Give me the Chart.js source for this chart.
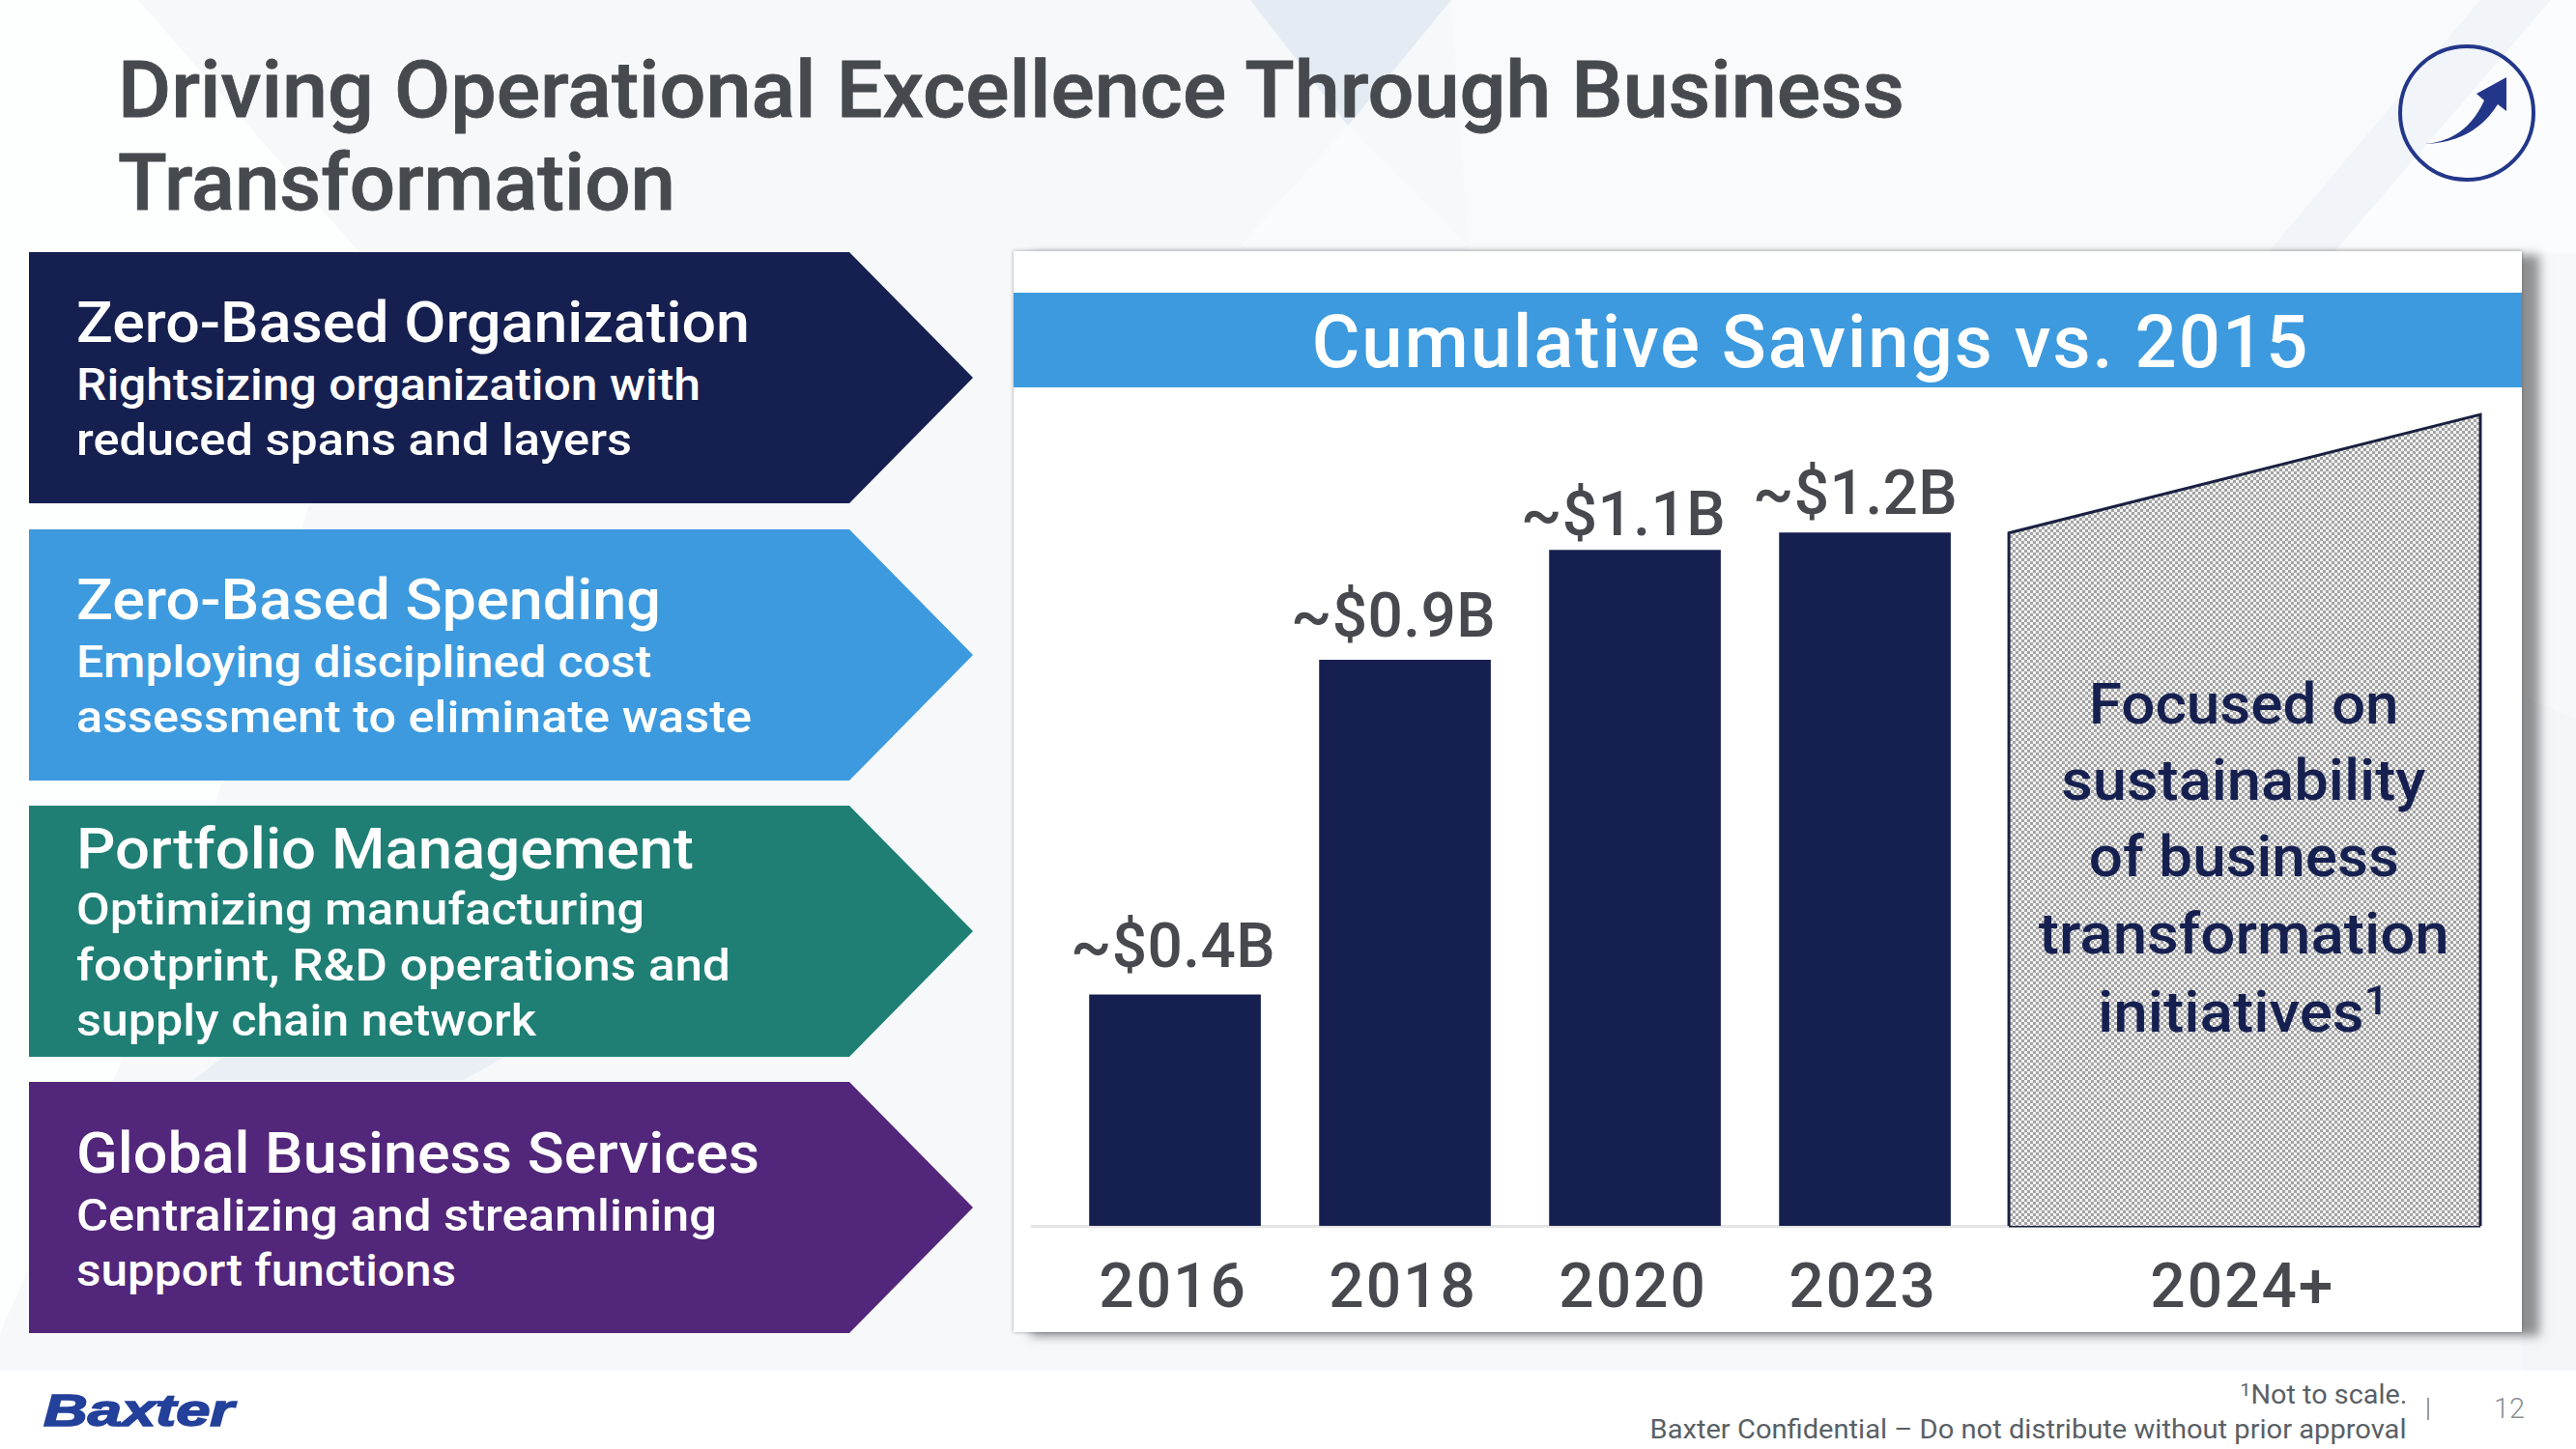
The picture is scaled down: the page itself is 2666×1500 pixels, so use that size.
<!DOCTYPE html>
<html>
<head>
<meta charset="utf-8">
<title>Driving Operational Excellence Through Business Transformation</title>
<script src="https://cdn.jsdelivr.net/npm/chart.js@4/dist/chart.umd.min.js"></script>
<style>
    html, body { margin: 0; padding: 0; background: #fff; }
    #slide { position: relative; width: 2666px; height: 1500px; overflow: hidden; font-family: Roboto, sans-serif; }
    #backdrop, #shapes { position: absolute; left: 0; top: 0; }
    #panel { position: absolute; left: 1049px; top: 260px; width: 1561px; height: 1119px; background: #fff;
             box-shadow: 18px 4px 10px rgba(60, 60, 60, 0.55), 0 0 4px rgba(60, 60, 60, 0.45); }
    #band { position: absolute; left: 0; top: 43px; width: 1561px; height: 98px; background: #3d9ade; }
    #savingsChart { position: absolute; left: -1px; top: 0; }
    .t { position: absolute; white-space: nowrap; line-height: 1; display: inline-block; }
    .t sup { font-size: 0.7em; line-height: 0; vertical-align: baseline; position: relative; top: -0.42em; }
</style>
</head>
<body>
<div id="slide">
    <svg id="backdrop" width="2666" height="1500">
        <rect width="2666" height="1419" fill="#f6f8fa"/>
        <polygon points="0,0 143,0 371,260 318,530 170,1000 0,1380" fill="#ffffff" opacity="0.8"/>
        <polygon points="1294,0 1502,0 1395,130" fill="#e4ebf3"/>
        <polygon points="1395,130 1283,255 1520,255" fill="#f9fbfc"/>
        <polygon points="1502,0 2567,0 2347,262 1520,262" fill="#f9fafb"/>
        <polygon points="2567,0 2640,0 2415,262 2347,262" fill="#f1f4f8"/>
        <polygon points="2640,0 2666,0 2666,262 2415,262" fill="#fbfcfd"/>
        <polygon points="2610,720 2666,745 2666,1419 2610,1419" fill="#f3f5f9"/>
        <polygon points="230,1095 520,1095 480,1118 200,1118" fill="#e9eff5"/>
    </svg>
    <svg id="shapes" width="2666" height="1500"></svg>
    <div id="panel">
        <div id="band"></div>
        <canvas id="savingsChart" width="1562" height="1119"></canvas>
    </div>
</div>
<script>
(function() {
    'use strict';

    // ============================================================================
    // CHART DATA
    // ============================================================================

    var categories = ['2016', '2018', '2020', '2023', '2024+'];
    var savingsValues = [0.40, 0.98, 1.17, 1.20];
    var savingsLabels = ['~$0.4B', '~$0.9B', '~$1.1B', '~$1.2B'];
    var outlookValues = [1.20, 1.405];
    var outlookNote = ['Focused on', 'sustainability', 'of business', 'transformation', 'initiatives<sup>1</sup>'];

    // ============================================================================
    // SLIDE TEXT
    // ============================================================================

    var titleLines = ['Driving Operational Excellence Through Business', 'Transformation'];
    var arrowHeads = ['Zero-Based Organization', 'Zero-Based Spending', 'Portfolio Management', 'Global Business Services'];
    var arrowBodies = [
        ['Rightsizing organization with', 'reduced spans and layers'],
        ['Employing disciplined cost', 'assessment to eliminate waste'],
        ['Optimizing manufacturing', 'footprint, R&amp;D operations and', 'supply chain network'],
        ['Centralizing and streamlining', 'support functions']
    ];
    var arrowColors = ['#162050', '#3d9ade', '#1f7f75', '#52267a'];

    // ============================================================================
    // LAYOUT (pixels and axis slots, not data)
    // ============================================================================

    var slide = document.getElementById('slide');
    var shapes = document.getElementById('shapes');
    var arrowTops = [261, 548, 834, 1120];
    var headBaselines = [354, 641, 899, 1214];
    var bodyBaselines = [[414, 471], [701, 758], [957, 1015, 1072], [1274, 1331]];
    var headWidths = [697, 605, 639, 707];
    var bodyWidths = [[646, 575], [595, 699], [588, 677, 476], [663, 393]];
    var noteBaselines = [749, 828, 907, 987, 1068];
    var noteWidths = [321, 377, 321, 425, 301];

    var barSlots = [0, 1, 2, 3];
    var tickSlots = [0, 1, 2, 3, 4.65];
    var shapeLeft = 3.626;
    var shapeRight = 5.676;
    var labelShiftX = [-2, -12, -12, -10];
    var labelGapY = [29, 24, 16, 20];

    // Text with a given baseline, squeezed to the width measured on the slide
    function addText(html, x, baseline, size, width, opts) {
        opts = opts || {};
        var el = document.createElement('span');
        el.className = 't';
        el.innerHTML = html;
        el.style.fontSize = size + 'px';
        el.style.fontWeight = opts.weight || 500;
        el.style.color = opts.color || '#ffffff';
        if (opts.family) el.style.fontFamily = opts.family;
        if (opts.italic) el.style.fontStyle = 'italic';
        if (opts.stroke) el.style.webkitTextStroke = opts.stroke + 'px ' + el.style.color;
        el.style.top = (baseline - 0.841 * size) + 'px';
        slide.appendChild(el);
        var natural = el.getBoundingClientRect().width;
        var align = opts.align || 'left';
        var left = align === 'center' ? x - natural / 2 : (align === 'right' ? x - natural : x);
        el.style.left = left + 'px';
        el.style.transformOrigin = align + ' center';
        if (width) el.style.transform = 'scaleX(' + (width / natural) + ')';
    }

    function addSvg(tag, attrs) {
        var el = document.createElementNS('http://www.w3.org/2000/svg', tag);
        Object.keys(attrs).forEach(function(k) { el.setAttribute(k, attrs[k]); });
        shapes.appendChild(el);
    }

    // ============================================================================
    // SLIDE FURNITURE
    // ============================================================================

    addText(titleLines[0], 122, 121, 82, 1849, { color: '#464a4f', stroke: 0.8 });
    addText(titleLines[1], 122, 217, 82, 577, { color: '#464a4f', stroke: 0.8 });

    arrowTops.forEach(function(top, i) {
        addSvg('polygon', {
            points: '30,' + top + ' 879,' + top + ' 1007,' + (top + 130) + ' 879,' + (top + 260) + ' 30,' + (top + 260),
            fill: arrowColors[i]
        });
        addText(arrowHeads[i], 79, headBaselines[i], 60, headWidths[i]);
        arrowBodies[i].forEach(function(line, j) {
            addText(line, 79, bodyBaselines[i][j], 46, bodyWidths[i][j]);
        });
    });

    // Corner icon
    addSvg('circle', { cx: 2553, cy: 117, r: 69, fill: 'none', stroke: '#23378a', 'stroke-width': 4 });
    addSvg('path', { d: 'M2509,149 Q2552,146 2571,104 L2563,97 L2594,80 L2594,115 L2585,108 Q2560,148 2509,149 Z', fill: '#23378a' });

    // Footer
    addSvg('rect', { y: 1419, width: 2666, height: 81, fill: '#ffffff' });
    addText('Baxter', 45, 1476, 47, 197, { color: '#23409a', weight: 700, italic: true, stroke: 1.6, family: '"Liberation Sans", sans-serif' });
    addText('<sup>1</sup>Not to scale.', 2491, 1454, 27, 173, { color: '#5a5f66', weight: 400, align: 'right' });
    addText('Baxter Confidential – Do not distribute without prior approval', 2491, 1490, 27, 783, { color: '#5a5f66', weight: 400, align: 'right' });
    addSvg('rect', { x: 2512, y: 1447, width: 2, height: 23, fill: '#9a9ea3' });
    addText('12', 2581, 1468, 30, 32, { color: '#8a8f95', weight: 300 });

    // ============================================================================
    // CHART
    // ============================================================================

    // Fine 50% checker used by the 2024+ shape
    function makeChecker() {
        var c = document.createElement('canvas');
        c.width = 6;
        c.height = 6;
        var g = c.getContext('2d');
        g.fillStyle = '#f2f2f2';
        g.fillRect(0, 0, 6, 6);
        g.fillStyle = '#a4a4a4';
        g.fillRect(0, 0, 3, 3);
        g.fillRect(3, 3, 3, 3);
        return g.createPattern(c, 'repeat');
    }

    // Draws ~$x.xB above each bar and nudges the title to the right of centre
    var barLabelPlugin = {
        id: 'barLabels',
        afterLayout: function(chart) {
            chart.titleBlock.left = 133;
        },
        beforeDraw: function(chart) {
            chart.ctx.letterSpacing = '2px';
        },
        afterDatasetsDraw: function(chart) {
            var ctx = chart.ctx;
            var bars = chart.getDatasetMeta(2).data;
            ctx.save();
            ctx.letterSpacing = '0.4px';
            ctx.font = '500 64px Roboto';
            ctx.fillStyle = '#47494e';
            ctx.textAlign = 'center';
            ctx.textBaseline = 'alphabetic';
            bars.forEach(function(bar, i) {
                ctx.fillText(savingsLabels[i], bar.x + labelShiftX[i], bar.y - labelGapY[i]);
            });
            ctx.restore();
        }
    };

    var canvas = document.getElementById('savingsChart');
    new Chart(canvas, {
        data: {
            datasets: [
                {
                    // 2024+ outlook: sloped top, filled down to the axis
                    type: 'line',
                    data: [
                        { x: shapeLeft, y: 0 },
                        { x: shapeLeft, y: outlookValues[0] },
                        { x: shapeRight, y: outlookValues[1] },
                        { x: shapeRight, y: 0 }
                    ],
                    borderColor: '#1a2040',
                    borderWidth: 3,
                    backgroundColor: makeChecker(),
                    fill: 'origin',
                    pointRadius: 0,
                    tension: 0,
                    clip: false
                },
                {
                    // Bottom edge of the same shape
                    type: 'line',
                    data: [{ x: shapeLeft, y: 0 }, { x: shapeRight, y: 0 }],
                    borderColor: '#1a2040',
                    borderWidth: 3,
                    pointRadius: 0,
                    fill: false,
                    clip: false
                },
                {
                    type: 'bar',
                    data: savingsValues.map(function(v, i) { return { x: barSlots[i], y: v }; }),
                    backgroundColor: '#162050',
                    barThickness: 177
                }
            ]
        },
        options: {
            responsive: false,
            animation: false,
            events: [],
            layout: { padding: { left: 20, right: 43, top: 0, bottom: 24 } },
            plugins: {
                legend: { display: false },
                tooltip: { enabled: false },
                title: {
                    display: true,
                    text: 'Cumulative Savings vs. 2015',
                    color: '#ffffff',
                    font: { family: 'Roboto', size: 76, weight: '500' },
                    padding: { top: 55, bottom: 14 }
                }
            },
            scales: {
                x: {
                    type: 'linear',
                    offset: false,
                    min: -0.622,
                    max: 5.676,
                    grid: { display: false, drawTicks: false },
                    border: { display: true, color: '#e4e4e4', width: 3 },
                    afterBuildTicks: function(axis) {
                        axis.ticks = tickSlots.map(function(v) { return { value: v }; });
                    },
                    afterFit: function(axis) {
                        axis.height = 86;
                    },
                    ticks: {
                        autoSkip: false,
                        maxRotation: 0,
                        padding: 30,
                        labelOffset: -2,
                        color: '#47494e',
                        font: { family: 'Roboto', size: 64, weight: '500' },
                        callback: function(value, index) { return categories[index]; }
                    }
                },
                y: { display: false, min: 0, max: 1.42 }
            }
        },
        plugins: [barLabelPlugin]
    });

    // Note inside the 2024+ shape
    outlookNote.forEach(function(line, i) {
        addText(line, 2322, noteBaselines[i], 60, noteWidths[i], { color: '#162050', align: 'center' });
    });
})();
</script>
</body>
</html>
